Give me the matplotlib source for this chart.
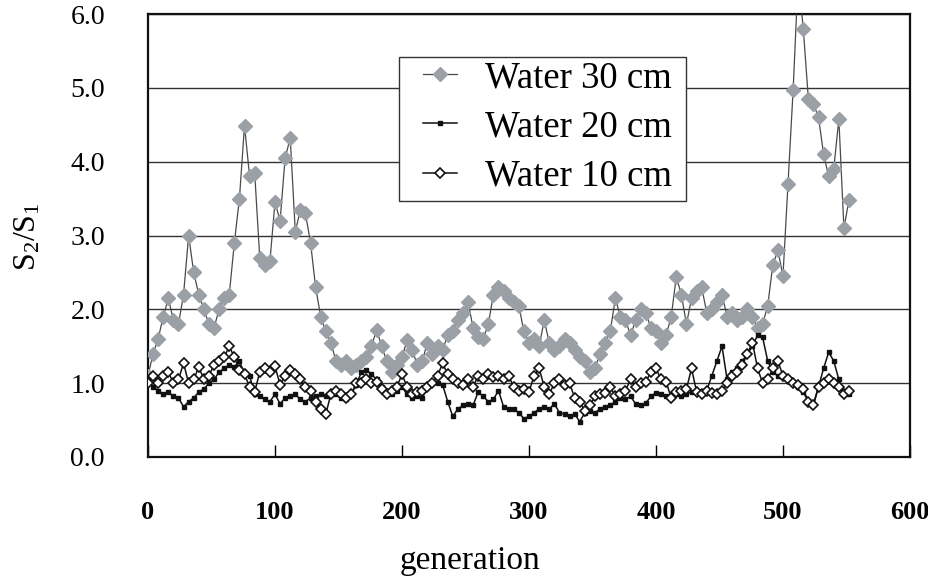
import numpy as np
import matplotlib
matplotlib.use("Agg")
import matplotlib.pyplot as plt
from matplotlib.patches import Rectangle

plt.rcParams['font.family'] = ['Liberation Serif', 'DejaVu Serif']
plt.rcParams['mathtext.fontset'] = 'custom'
plt.rcParams['mathtext.rm'] = 'Liberation Serif'
plt.rcParams['mathtext.it'] = 'Liberation Serif'

# generation numbers (every 4th generation)
generation = np.arange(0, 553, 4)

water30 = [
    1.1, 1.4, 1.6, 1.9, 2.15, 1.85, 1.8, 2.2, 3.0, 2.5,
    2.2, 2.0, 1.8, 1.75, 2.0, 2.15, 2.2, 2.9, 3.5, 4.49,
    3.8, 3.85, 2.7, 2.6, 2.65, 3.45, 3.2, 4.05, 4.32, 3.05,
    3.35, 3.3, 2.9, 2.3, 1.9, 1.7, 1.55, 1.3, 1.25, 1.3,
    1.2, 1.25, 1.3, 1.35, 1.5, 1.72, 1.5, 1.3, 1.15, 1.25,
    1.35, 1.58, 1.45, 1.25, 1.3, 1.55, 1.4, 1.5, 1.45, 1.65,
    1.7, 1.85, 1.95, 2.1, 1.75, 1.62, 1.6, 1.8, 2.2, 2.3,
    2.25, 2.15, 2.1, 2.05, 1.7, 1.55, 1.6, 1.5, 1.85, 1.55,
    1.45, 1.5, 1.6, 1.55, 1.45, 1.35, 1.3, 1.15, 1.2, 1.4,
    1.55, 1.7, 2.15, 1.9, 1.85, 1.65, 1.85, 2.0, 1.95, 1.75,
    1.7, 1.55, 1.65, 1.9, 2.44, 2.2, 1.8, 2.15, 2.25, 2.3,
    1.95, 2.0, 2.1, 2.2, 1.9, 1.95, 1.85, 1.9, 2.0, 1.9,
    1.75, 1.8, 2.05, 2.6, 2.8, 2.45, 3.7, 4.97, 6.5, 5.8,
    4.85, 4.78, 4.6, 4.1, 3.8, 3.9, 4.58, 3.1, 3.48,
]

water20 = [
    1.05, 0.95, 0.9, 0.85, 0.88, 0.82, 0.8, 0.68, 0.75, 0.8,
    0.88, 0.92, 1.0, 1.05, 1.15, 1.2, 1.25, 1.22, 1.3, 1.12,
    1.1, 0.85, 0.82, 0.78, 0.75, 0.85, 0.72, 0.8, 0.82, 0.85,
    0.78, 0.75, 0.8, 0.82, 0.85, 0.83, 0.88, 0.85, 0.8, 0.78,
    0.85, 0.98, 1.15, 1.18, 1.12, 1.05, 0.95, 0.88, 0.85, 0.9,
    0.95, 0.85, 0.8, 0.82, 0.8, 0.95, 1.0, 1.0, 0.98, 0.75,
    0.55, 0.65, 0.7, 0.72, 0.7, 0.88, 0.82, 0.75, 0.78, 0.9,
    0.68, 0.65, 0.65, 0.6, 0.52, 0.55, 0.6, 0.65, 0.68, 0.65,
    0.72, 0.6, 0.58, 0.55, 0.58, 0.48, 0.6, 0.62, 0.6, 0.65,
    0.68, 0.7, 0.75, 0.8, 0.78, 0.82, 0.72, 0.7, 0.73, 0.82,
    0.87, 0.85, 0.82, 0.8, 0.85, 0.82, 0.85, 0.88, 0.9, 0.85,
    0.9, 1.1, 1.3, 1.5, 1.05, 1.15, 1.2, 1.3, 1.4, 1.5,
    1.65, 1.62, 1.3, 1.15, 1.1, 1.08, 1.05, 1.0, 0.95, 0.88,
    0.75, 0.72, 0.95, 1.2, 1.42, 1.3, 1.05, 0.88, 0.85,
]

water10 = [
    1.0, 1.1, 1.0, 1.1, 1.15, 1.0, 1.05, 1.27, 1.0, 1.05,
    1.22, 1.05, 1.1, 1.25, 1.3, 1.35, 1.5, 1.35, 1.18, 1.12,
    0.95, 0.88, 1.15, 1.2, 1.15, 1.23, 0.98, 1.1, 1.18, 1.12,
    1.05, 0.95, 0.9, 0.75, 0.65, 0.58, 0.85, 0.9, 0.85, 0.8,
    0.85, 1.0, 1.0, 1.05, 1.0, 1.02, 0.92, 0.85, 0.9, 0.95,
    1.12, 0.95, 0.85, 0.88, 0.9, 0.95, 1.0, 1.1, 1.27, 1.12,
    1.05, 1.0, 0.98, 1.05, 0.95, 1.1, 1.05, 1.12, 1.08, 1.1,
    1.05, 1.1, 0.95, 0.9, 0.92, 0.88, 1.1, 1.2, 0.95, 0.85,
    1.0, 1.05, 0.98, 1.0, 0.8, 0.75, 0.62, 0.7, 0.82, 0.85,
    0.87, 0.95, 0.82, 0.85, 0.9, 1.05, 0.95, 1.0, 1.02, 1.15,
    1.2, 1.05, 1.02, 0.8, 0.88, 0.9, 0.92, 1.2, 0.88, 0.85,
    0.9, 0.87, 0.85, 0.9, 1.0, 1.1, 1.15, 1.25, 1.4, 1.55,
    1.2, 1.0, 1.05, 1.2, 1.3, 1.1, 1.05, 1.0, 0.98, 0.92,
    0.75, 0.7, 0.95, 1.0, 1.05, 1.0, 0.95, 0.85, 0.9,
]

fig = plt.figure(figsize=(9.29, 5.77), dpi=100)
ax = fig.add_axes([0.1593, 0.208, 0.8202, 0.7677])

ax.plot(generation, water30, color='#4a4a4a', lw=0.9, marker='D', ms=7,
        mfc='#9aa0a6', mec='#9aa0a6', label='Water 30 cm', zorder=3)
ax.plot(generation, water20, color='#111111', lw=1.1, marker='s', ms=3.5,
        mfc='#111111', mec='#111111', label='Water 20 cm', zorder=4)
ax.plot(generation, water10, color='#111111', lw=1.1, marker='D', ms=5.5,
        mfc='white', mec='#111111', mew=1.2, label='Water 10 cm', zorder=5)

ax.set_xlim(0, 600)
ax.set_ylim(0, 6)
ax.set_xticks(range(0, 601, 100))
ax.set_yticks(np.arange(0, 6.1, 1.0))
ax.set_yticklabels(['%.1f' % v for v in np.arange(0, 6.1, 1.0)])
ax.yaxis.grid(True, color='#333333', lw=1.0)
ax.set_axisbelow(True)

ax.tick_params(axis='x', direction='in', length=9, width=1, pad=32,
               labelsize=19)
ax.tick_params(axis='y', length=0, pad=31, labelsize=20)
for lab in ax.get_xticklabels():
    lab.set_fontweight('bold')
for sp in ax.spines.values():
    sp.set_linewidth(1.6)
    sp.set_color('#111111')

fig.text(470 / 929, 1 - 561 / 577, 'generation', fontsize=24,
         ha='center', va='center')
fig.text(28 / 929, 1 - 237 / 577, 'S$_2$/S$_1$', fontsize=23,
         rotation=90, ha='center', va='center')

# legend box
ax.add_patch(Rectangle((0.3294, 0.578), 0.3766, 0.325, transform=ax.transAxes,
                       facecolor='white', edgecolor='#333333', lw=1.0,
                       zorder=2.5))
leg = ax.legend(loc='upper left', bbox_to_anchor=(0.361, 0.895),
                fontsize=26.5, frameon=False, borderpad=0,
                handlelength=0.92, handletextpad=0.76, labelspacing=0.4,
                borderaxespad=0)

fig.savefig('out.png', dpi=100)
